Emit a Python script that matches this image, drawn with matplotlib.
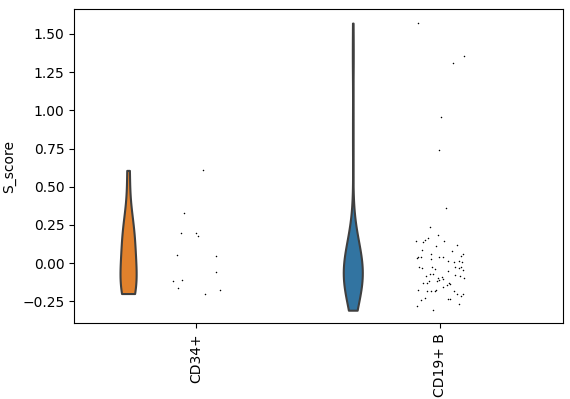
import numpy as np
import matplotlib
matplotlib.use("Agg")
import matplotlib.pyplot as plt

categories = ["CD34+", "CD19+ B"]
colors = ["#e1812c", "#3274a1"]

cd34_values = [0.607, 0.326, 0.195, 0.195, 0.175, 0.050, 0.044, -0.061, -0.111,
               -0.120, -0.164, -0.199, -0.179]
cd34_jitter = [0.029, -0.049, -0.061, -0.002, 0.009, -0.077, 0.082, 0.082, -0.057,
               -0.094, -0.073, 0.037, 0.099]

cd19_values = [1.571, 1.356, 1.309, 0.955, 0.738, 0.358, 0.234, 0.181, 0.166, 0.144,
               0.140, 0.151, 0.144, 0.109, 0.116, 0.083, 0.077, 0.061, 0.061, 0.037,
               0.031, 0.041, 0.041, 0.037, 0.026, 0.048, 0.013, 0.005, 0.015, 0.005,
               -0.024, -0.035, -0.024, -0.037, -0.024, -0.031, -0.024, -0.046, -0.054,
               -0.081, -0.068, -0.068, -0.096, -0.090, -0.103, -0.079, -0.081, -0.094,
               -0.133, -0.133, -0.116, -0.116, -0.111, -0.127, -0.138, -0.173, -0.184,
               -0.184, -0.184, -0.177, -0.159, -0.142, -0.184, -0.199, -0.212, -0.203,
               -0.227, -0.238, -0.232, -0.232, -0.269, -0.282, -0.308]
cd19_jitter = [-0.091, 0.097, 0.052, 0.003, -0.005, 0.023, -0.042, -0.009, -0.050, -0.099,
               -0.073, -0.062, 0.016, -0.020, 0.066, -0.074, 0.048, 0.093, -0.038, -0.093,
               -0.096, -0.080, -0.005, 0.009, -0.038, 0.085, 0.032, 0.056, 0.077, 0.087,
               -0.087, -0.076, -0.036, -0.024, 0.059, 0.074, 0.083, 0.093, 0.032,
               -0.059, -0.043, -0.029, -0.011, 0.005, 0.011, 0.061, 0.080, 0.096,
               -0.070, -0.056, -0.046, -0.014, -0.006, 0.035, 0.039, -0.091, -0.055,
               -0.040, -0.023, -0.018, 0.009, 0.027, 0.056, 0.066, 0.084, 0.093,
               -0.062, -0.080, 0.030, 0.038, 0.077, -0.095, -0.029]

values = [cd34_values, cd19_values]
jitters = [cd34_jitter, cd19_jitter]
violin_offsets = [-0.279, -0.359]
violin_widths = [0.066, 0.078]

fig = plt.figure(figsize=(5.7, 3.99), dpi=100)
ax = fig.add_axes([0.13, 0.19, 0.857, 0.787])

for i, (vals, jit) in enumerate(zip(values, jitters)):
    parts = ax.violinplot([vals], positions=[i + violin_offsets[i]],
                          widths=violin_widths[i], showextrema=False,
                          bw_method="scott")
    for b in parts["bodies"]:
        b.set_facecolor(colors[i])
        b.set_edgecolor("#3f3f3f")
        b.set_linewidth(1.5)
        b.set_alpha(1)
    ax.scatter(np.array(jit) + i, vals, s=1.2, c="black", linewidths=0, zorder=3)

ax.set_xlim(-0.5, 1.5)
ax.set_ylim(-0.393, 1.662)
ax.set_xticks(range(len(categories)))
ax.set_xticklabels(categories, rotation=90)
ax.set_yticks([-0.25, 0.0, 0.25, 0.5, 0.75, 1.0, 1.25, 1.5])
ax.set_ylabel("S_score")

fig.savefig("out.png", dpi=100)
